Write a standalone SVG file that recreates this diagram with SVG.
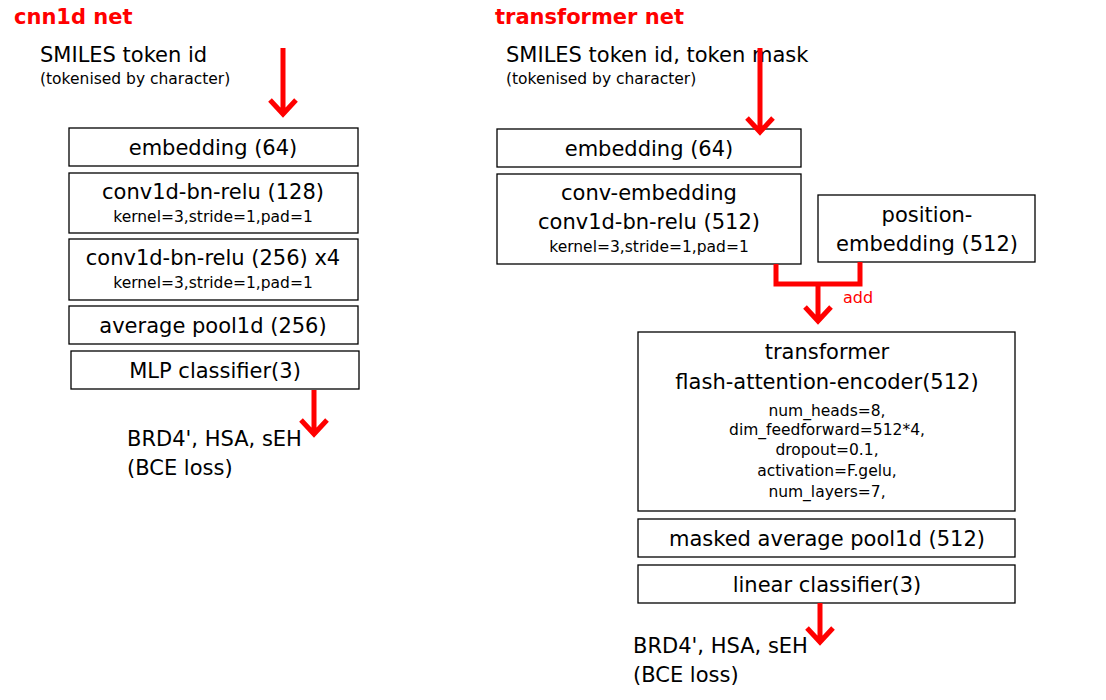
<svg xmlns="http://www.w3.org/2000/svg" width="1106" height="700" viewBox="0 0 1106 700">
<defs>
<style>
text{font-family:"DejaVu Sans","Liberation Sans",sans-serif;fill:#000}
.b{font-size:21px}
.s{font-size:15.5px}
.m{text-anchor:middle}
.t{font-size:21px;font-weight:bold;fill:#f00}
.r{fill:#f00;font-size:16px}
rect{fill:#fff;stroke:#000;stroke-width:1.3}
.c{fill:none;stroke:#f00;stroke-width:5}
</style>
<marker id="ah" viewBox="0 0 10 10" refX="5" refY="9" markerWidth="6" markerHeight="6" markerUnits="userSpaceOnUse" orient="auto">
</marker>
</defs>
<rect x="0" y="0" width="1106" height="700" style="stroke:none"/>
<text class="t" x="14" y="24">cnn1d net</text>
<text class="t" x="495" y="24">transformer net</text>
<text class="b" x="40" y="62">SMILES token id</text>
<text class="s" x="40" y="84">(tokenised by character)</text>
<text class="b" x="506" y="62">SMILES token id, token mask</text>
<text class="s" x="506" y="84">(tokenised by character)</text>
<g id="l-emb"><rect x="69" y="128" width="289" height="38"/><text class="b m" x="213" y="155">embedding (64)</text></g>
<g id="l-conv1"><rect x="69" y="173" width="289" height="60"/><text class="b m" x="213" y="199">conv1d-bn-relu (128)</text><text class="s m" x="213" y="222">kernel=3,stride=1,pad=1</text></g>
<g id="l-conv2"><rect x="69" y="239" width="289" height="61"/><text class="b m" x="213" y="265">conv1d-bn-relu (256) x4</text><text class="s m" x="213" y="288">kernel=3,stride=1,pad=1</text></g>
<g id="l-pool"><rect x="69" y="306" width="289" height="38"/><text class="b m" x="213" y="333">average pool1d (256)</text></g>
<g id="l-mlp"><rect x="71" y="351" width="288" height="38"/><text class="b m" x="215" y="378">MLP classifier(3)</text></g>
<g id="l-out"><text class="b" x="127" y="446">BRD4', HSA, sEH</text><text class="b" x="127" y="475">(BCE loss)</text></g>
<g id="r-emb"><rect x="497" y="129" width="304" height="38"/><text class="b m" x="649" y="156">embedding (64)</text></g>
<g id="r-conv"><rect x="497" y="174" width="304" height="90"/><text class="b m" x="649" y="200">conv-embedding</text><text class="b m" x="649" y="229">conv1d-bn-relu (512)</text><text class="s m" x="649" y="252">kernel=3,stride=1,pad=1</text></g>
<g id="r-pos"><rect x="818" y="195" width="217" height="67"/><text class="b m" x="927" y="222">position-</text><text class="b m" x="927" y="251">embedding (512)</text></g>
<g id="r-trans"><rect x="638" y="332" width="377" height="179"/>
<text class="b m" x="827" y="359">transformer</text>
<text class="b m" x="827" y="389">flash-attention-encoder(512)</text>
<text class="s m" x="827" y="416">num_heads=8,</text>
<text class="s m" x="827" y="435">dim_feedforward=512*4,</text>
<text class="s m" x="827" y="455">dropout=0.1,</text>
<text class="s m" x="827" y="476">activation=F.gelu,</text>
<text class="s m" x="827" y="497">num_layers=7,</text></g>
<g id="r-pool"><rect x="638" y="519" width="377" height="38"/><text class="b m" x="827" y="546">masked average pool1d (512)</text></g>
<g id="r-lin"><rect x="638" y="565" width="377" height="38"/><text class="b m" x="827" y="592">linear classifier(3)</text></g>
<g id="r-out"><text class="b" x="633" y="653">BRD4', HSA, sEH</text><text class="b" x="633" y="682">(BCE loss)</text></g>
<g id="connectors">
<path class="c" d="M283 48V114M270 100L283 114L296 100"/>
<path class="c" d="M314 390V434M301 420L314 434L327 420"/>
<path class="c" d="M760 48V132M747 118L760 132L773 118"/>
<path class="c" d="M776 264V284H860V262"/>
<path class="c" d="M818 284V321M805 307L818 321L831 307"/>
<path class="c" d="M820 603V642M807 628L820 642L833 628"/>
<text class="r" x="843" y="303">add</text>
</g>
</svg>
